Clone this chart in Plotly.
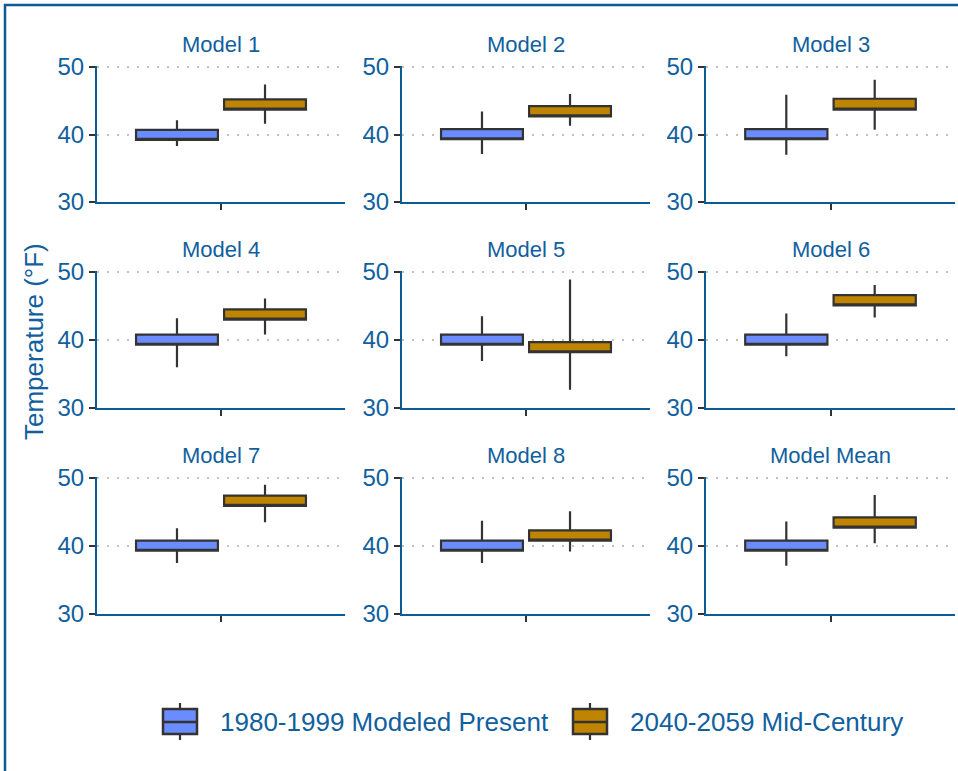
import plotly.graph_objects as go

# Panel names (3 x 3 facet grid)
models = ["Model 1", "Model 2", "Model 3",
          "Model 4", "Model 5", "Model 6",
          "Model 7", "Model 8", "Model Mean"]

# 1980-1999 Modeled Present: box statistics per model (°F)
present_low = [38.3, 37.1, 37.0, 36.0, 36.9, 37.6, 37.5, 37.5, 37.1]
present_q1 = [39.2, 39.3, 39.3, 39.3, 39.3, 39.3, 39.3, 39.3, 39.3]
present_q3 = [40.7, 40.8, 40.8, 40.8, 40.8, 40.8, 40.8, 40.8, 40.8]
present_high = [42.1, 43.4, 45.9, 43.2, 43.5, 43.9, 42.6, 43.7, 43.6]

# 2040-2059 Mid-Century: box statistics per model (°F)
future_low = [41.6, 41.3, 40.7, 40.8, 32.7, 43.3, 43.5, 39.2, 40.4]
future_q1 = [43.7, 42.7, 43.7, 43.0, 38.2, 45.1, 45.9, 40.8, 42.7]
future_q3 = [45.2, 44.2, 45.3, 44.5, 39.7, 46.6, 47.4, 42.3, 44.2]
future_high = [47.4, 46.0, 48.1, 46.1, 48.9, 48.1, 49.0, 45.1, 47.5]

y_ticks = [30, 40, 50]
series_names = ["1980-1999 Modeled Present", "2040-2059 Mid-Century"]
series_colors = ["#6A8CFF", "#BF8400"]

W, H = 958, 771
BLUE = "#0B5C96"
TEXT = "#11609E"
EDGE = "#333333"
FONT = "Arial, Liberation Sans, sans-serif"

# panel extents in pixels
col_px = [(97, 345), (402, 650), (706, 955)]
row_px = [(66, 202), (271, 408), (477, 614)]


def px(x):
    return x / W


def py(y):
    return 1 - y / H


fig = go.Figure()
layout = {}
annotations = []
shapes = []

for i, name in enumerate(models):
    r, c = divmod(i, 3)
    idx = "" if i == 0 else str(i + 1)
    xa, ya = "x" + idx, "y" + idx
    x0, x1 = col_px[c]
    yt, yb = row_px[r]
    xd = [px(x0), px(x1)]
    yd = [py(yb), py(yt)]

    stats = [
        (present_low[i], present_q1[i], present_q3[i], present_high[i]),
        (future_low[i], future_q1[i], future_q3[i], future_high[i]),
    ]
    for s, (lo, q1, q3, hi) in enumerate(stats):
        fig.add_trace(go.Box(
            x=["all"], q1=[q1], median=[q1], q3=[q3],
            lowerfence=[lo], upperfence=[hi],
            name=series_names[s], legendgroup=series_names[s],
            offsetgroup=str(s), showlegend=False,
            fillcolor=series_colors[s],
            line=dict(color=EDGE, width=2.2),
            whiskerwidth=0, boxpoints=False,
            xaxis=xa, yaxis=ya, hoverinfo="skip",
        ))

    layout["xaxis" + idx] = dict(
        domain=xd, anchor=ya, type="category", range=[-0.5, 0.5],
        showline=True, linecolor=BLUE, linewidth=2.2,
        ticks="outside", ticklen=6, tickcolor=EDGE, tickwidth=2,
        showticklabels=False, showgrid=False, zeroline=False, fixedrange=True,
    )
    layout["yaxis" + idx] = dict(
        domain=yd, anchor=xa, range=[30, 50.15], tickvals=y_ticks,
        showline=True, linecolor=BLUE, linewidth=2.2,
        ticks="outside", ticklen=6, tickcolor=EDGE, tickwidth=2,
        tickfont=dict(size=24, color=TEXT, family=FONT),
        showgrid=True, gridcolor="#C2C2C2", gridwidth=2, griddash="2px,8px",
        zeroline=False, fixedrange=True,
    )
    annotations.append(dict(
        text=name, x=(xd[0] + xd[1]) / 2, y=yd[1], xref="paper", yref="paper",
        xanchor="center", yanchor="middle", yshift=22, showarrow=False,
        font=dict(size=22, color=TEXT, family=FONT),
    ))

annotations.append(dict(
    text="Temperature (°F)", x=px(34), y=py(342), xref="paper", yref="paper",
    textangle=-90, xanchor="center", yanchor="middle", showarrow=False,
    font=dict(size=26, color=TEXT, family=FONT),
))

# Legend keys drawn as small box glyphs with labels
legend_keys = [(163, 218), (573, 628)]
for s, (kx, tx) in enumerate(legend_keys):
    cx = kx + 17
    shapes.append(dict(type="line", xref="paper", yref="paper",
                       x0=px(cx), x1=px(cx), y0=py(703), y1=py(740),
                       line=dict(color=EDGE, width=2.2)))
    shapes.append(dict(type="rect", xref="paper", yref="paper",
                       x0=px(kx), x1=px(kx + 34), y0=py(734), y1=py(709),
                       fillcolor=series_colors[s], line=dict(color=EDGE, width=2.5)))
    shapes.append(dict(type="line", xref="paper", yref="paper",
                       x0=px(kx), x1=px(kx + 34), y0=py(722), y1=py(722),
                       line=dict(color=EDGE, width=2.5)))
    annotations.append(dict(
        text=series_names[s], x=px(tx), y=py(722), xref="paper", yref="paper",
        xanchor="left", yanchor="middle", showarrow=False,
        font=dict(size=26, color=TEXT, family=FONT),
    ))

# Outer frame
shapes.append(dict(
    type="rect", xref="paper", yref="paper",
    x0=px(5), x1=1.02, y0=-0.02, y1=py(5),
    line=dict(color=BLUE, width=2.5), layer="above",
))

fig.update_layout(
    **layout,
    annotations=annotations,
    shapes=shapes,
    width=W, height=H, autosize=False,
    margin=dict(l=0, r=0, t=0, b=0, pad=0, autoexpand=False),
    paper_bgcolor="white", plot_bgcolor="white",
    boxmode="group", boxgap=0.29, boxgroupgap=0.07,
    showlegend=False,
    font=dict(family=FONT, color=TEXT),
)

fig.write_html("out.html")
